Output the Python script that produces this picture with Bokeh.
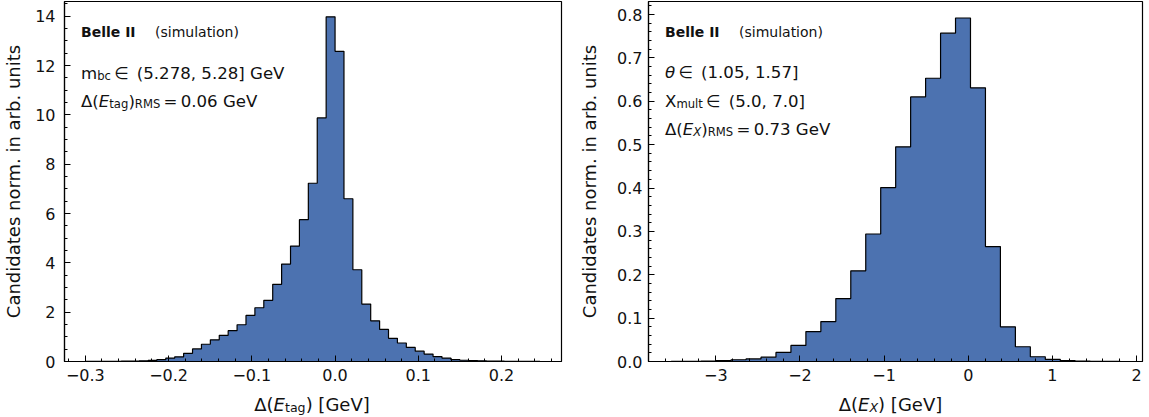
import numpy as np
from bokeh.plotting import figure
from bokeh.models import Range1d, FixedTicker, CustomJSTickFormatter, Label
from bokeh.layouts import row, column
from bokeh.embed import file_html
from bokeh.resources import INLINE

# ---------------- data ----------------
# left panel: Delta(E_tag) histogram (normalised)
etag_edge_lo = -0.2996
etag_edge_hi = 0.2461
etag_values = [0.003, 0.005, 0.007, 0.01, 0.015, 0.02, 0.03, 0.045, 0.08, 0.14,
               0.19, 0.33, 0.51, 0.70, 0.88, 1.06, 1.25, 1.49, 1.87, 2.18,
               2.48, 3.13, 3.95, 4.68, 5.75, 7.23, 9.88, 13.98, 12.58, 6.60,
               3.72, 2.33, 1.65, 1.30, 0.94, 0.75, 0.57, 0.42, 0.30, 0.20,
               0.14, 0.08, 0.05, 0.04, 0.03, 0.02, 0.015, 0.01, 0.008, 0.006,
               0.005]
etag_xticks = [-0.3, -0.2, -0.1, 0.0, 0.1, 0.2]
etag_yticks = [0, 2, 4, 6, 8, 10, 12, 14]
etag_xrange = (-0.325, 0.272)
etag_yrange = (0.0, 14.6)

# right panel: Delta(E_X) histogram (normalised)
ex_edge_lo = -3.53
ex_edge_hi = 1.804
ex_values = [0.0002, 0.0005, 0.001, 0.002, 0.004, 0.006, 0.010, 0.021, 0.037, 0.069,
             0.092, 0.145, 0.209, 0.294, 0.401, 0.495, 0.610, 0.653, 0.757, 0.792,
             0.631, 0.265, 0.080, 0.034, 0.011, 0.005, 0.002, 0.001, 0.0005, 0.0003]
ex_xticks = [-3, -2, -1, 0, 1, 2]
ex_yticks = [0.0, 0.1, 0.2, 0.3, 0.4, 0.5, 0.6, 0.7, 0.8]
ex_xrange = (-3.80, 2.07)
ex_yrange = (0.0, 0.83)

y_label = "Candidates norm. in arb. units"
belle_label = "Belle II"
sim_label = "(simulation)"

# text pieces: (text, size factor, style, subscript?, gap before in em)
left_lines = [
    [("m", 1, "normal", False, 0), ("bc", .7, "normal", True, 0),
     ("∈", 1, "normal", False, .195), ("(5.278, 5.28] GeV", 1, "normal", False, .513)],
    [("Δ(", 1, "normal", False, 0), ("E", 1, "italic", False, 0), ("tag", .7, "normal", True, 0),
     (")", 1, "normal", False, 0), ("RMS", .7, "normal", True, 0),
     ("=", 1, "normal", False, .195), ("0.06 GeV", 1, "normal", False, .195)],
]
right_lines = [
    [("θ", 1, "italic", False, 0), ("∈", 1, "normal", False, .195),
     ("(1.05, 1.57]", 1, "normal", False, .513)],
    [("X", 1, "normal", False, 0), ("mult", .7, "normal", True, 0),
     ("∈", 1, "normal", False, .195), ("(5.0, 7.0]", 1, "normal", False, .513)],
    [("Δ(", 1, "normal", False, 0), ("E", 1, "italic", False, 0), ("X", .7, "italic", True, 0),
     (")", 1, "normal", False, 0), ("RMS", .7, "normal", True, 0),
     ("=", 1, "normal", False, .195), ("0.73 GeV", 1, "normal", False, .195)],
]
left_xlabel = [("Δ(", 1, "normal", False, 0), ("E", 1, "italic", False, 0), ("tag", .7, "normal", True, 0),
               (")", 1, "normal", False, 0), ("[GeV]", 1, "normal", False, .318)]
right_xlabel = [("Δ(", 1, "normal", False, 0), ("E", 1, "italic", False, 0), ("X", .7, "italic", True, 0),
                (")", 1, "normal", False, 0), ("[GeV]", 1, "normal", False, .318)]

# ---------------- styling helpers ----------------
FONT = "DejaVu Sans"
FILL = "#4C72B0"
TXT = "#111111"
EM = {' ': .318, '(': .390, ')': .390, '[': .390, ']': .390, ',': .318, '.': .318,
      '=': .838, '∈': .85, 'Δ': .684, 'θ': .612, 'E': .632, 'G': .775, 'V': .684,
      'R': .695, 'M': .863, 'S': .635, 'X': .686, 'a': .613, 'b': .635, 'c': .550,
      'e': .615, 'g': .635, 'i': .278, 'l': .278, 'm': .974, 'n': .634, 'o': .612,
      's': .521, 't': .392, 'u': .634}
for d in "0123456789":
    EM[d] = .636


def tw(s, size):
    return sum(EM.get(c, .6) for c in s) * size


PAGE_W = 1149
PAGE_H = 417
LAB_H = 27
MAIN_H = PAGE_H - LAB_H
FRAME_H = 360
TOP = 1
BOTTOM = MAIN_H - TOP - FRAME_H


def add_run(p, parts, x0, base, size, frame_left, frame_bottom):
    x = x0
    for txt, f, style, sub, gap in parts:
        x += gap * size
        fs = size * f
        dy = 2.6 * size / 16.6 if sub else 0
        p.add_layout(Label(x=x - frame_left, y=frame_bottom - (base + dy),
                           x_units="screen", y_units="screen", text=txt,
                           text_font=FONT, text_font_size=f"{fs:.2f}px",
                           text_font_style=style, text_color=TXT,
                           text_align="left", text_baseline="alphabetic"))
        x += tw(txt, fs)


def run_width(parts, size):
    return sum(g * size + tw(t, size * f) for t, f, s, sb, g in parts)


def make_panel(edges, values, xr, yr, xticks, xminor, yticks, yminor, xfmt, yfmt,
               frame_w, b_left, b_right, ystandoff, ylabel_standoff):
    p = figure(width=b_left + frame_w + b_right, height=MAIN_H,
               frame_width=frame_w, frame_height=FRAME_H,
               x_range=Range1d(*xr), y_range=Range1d(*yr),
               output_backend="svg", toolbar_location=None,
               min_border_left=b_left, min_border_right=b_right,
               min_border_top=TOP, min_border_bottom=BOTTOM)
    p.background_fill_color = "white"
    p.border_fill_color = "white"
    p.outline_line_color = "black"
    p.outline_line_width = 1.2
    p.xgrid.visible = False
    p.ygrid.visible = False

    p.varea_step(x=edges, y1=[0.0] * len(edges), y2=list(values) + [values[-1]],
                 step_mode="after", fill_color=FILL)
    xs = [edges[0]]
    ys = [0.0]
    for i, v in enumerate(values):
        xs += [edges[i], edges[i + 1]]
        ys += [v, v]
    xs.append(edges[-1])
    ys.append(0.0)
    p.line(xs, ys, line_color="black", line_width=1.2)

    p.xaxis.ticker = FixedTicker(ticks=xticks, minor_ticks=xminor)
    p.yaxis.ticker = FixedTicker(ticks=yticks, minor_ticks=yminor)
    p.xaxis.formatter = CustomJSTickFormatter(code=xfmt)
    p.yaxis.formatter = CustomJSTickFormatter(code=yfmt)
    for ax in (p.xaxis[0], p.yaxis[0]):
        ax.axis_line_color = "black"
        ax.axis_line_width = 1.2
        ax.major_tick_in = 6
        ax.major_tick_out = 0
        ax.minor_tick_in = 3
        ax.minor_tick_out = 0
        ax.major_tick_line_color = "black"
        ax.minor_tick_line_color = "black"
        ax.major_tick_line_width = 1
        ax.minor_tick_line_width = 1
        ax.major_label_text_font = FONT
        ax.major_label_text_font_size = "16px"
        ax.major_label_text_color = TXT
    p.xaxis.major_label_standoff = 7
    p.yaxis.major_label_standoff = ystandoff
    p.yaxis.axis_label = y_label
    p.yaxis.axis_label_text_font = FONT
    p.yaxis.axis_label_text_font_size = "18px"
    p.yaxis.axis_label_text_font_style = "normal"
    p.yaxis.axis_label_text_color = TXT
    p.yaxis.axis_label_standoff = ylabel_standoff
    return p


def minor(lo, hi, step):
    n0 = int(np.ceil(lo / step - 1e-9))
    n1 = int(np.floor(hi / step + 1e-9))
    return [round(k * step, 6) for k in range(n0, n1 + 1)]


fmt_x1 = "return tick.toFixed(1).replace('-', '\u2212');"
fmt_x0 = "return tick.toFixed(0).replace('-', '\u2212');"
fmt_y1 = "return tick.toFixed(1);"
fmt_y0 = "return tick.toFixed(0);"

etag_edges = list(np.linspace(etag_edge_lo, etag_edge_hi, len(etag_values) + 1))
ex_edges = list(np.linspace(ex_edge_lo, ex_edge_hi, len(ex_values) + 1))

L_LEFT, L_W, L_RIGHT = 63, 497, 15
R_LEFT, R_W, R_RIGHT = 68, 494, 12
L_WIDTH = L_LEFT + L_W + L_RIGHT

p1 = make_panel(etag_edges, etag_values, etag_xrange, etag_yrange,
                etag_xticks, minor(etag_xrange[0], etag_xrange[1], 0.02),
                etag_yticks, minor(0, etag_yrange[1], 0.5), fmt_x1, fmt_y0,
                L_W, L_LEFT, L_RIGHT, 9, 8)
p2 = make_panel(ex_edges, ex_values, ex_xrange, ex_yrange,
                ex_xticks, minor(ex_xrange[0], ex_xrange[1], 0.2),
                ex_yticks, minor(0, ex_yrange[1], 0.02), fmt_x0, fmt_y1,
                R_W, R_LEFT, R_RIGHT, 6, 14)

# full-width strip below both panels that carries the x-axis titles
q = figure(width=PAGE_W, height=LAB_H, frame_width=PAGE_W, frame_height=LAB_H,
           x_range=Range1d(0, PAGE_W), y_range=Range1d(0, LAB_H),
           output_backend="svg", toolbar_location=None,
           min_border=0, min_border_left=0, min_border_right=0,
           min_border_top=0, min_border_bottom=0)
q.axis.visible = False
q.xgrid.visible = False
q.ygrid.visible = False
q.outline_line_color = None
q.background_fill_color = "white"
q.border_fill_color = "white"

FB = TOP + FRAME_H  # frame bottom (page px)
ANN = 16.6
XLAB_BASE = 404

for p, offset, fl, lines, bases, xl, fw in (
        (p1, 0, L_LEFT, left_lines, [72.7, 101.0], left_xlabel, L_W),
        (p2, L_WIDTH, R_LEFT, right_lines, [72.3, 101.0, 129.3], right_xlabel, R_W)):
    x0 = fl + 16.5
    p.add_layout(Label(x=16.5, y=FB - 31, x_units="screen", y_units="screen",
                       text=belle_label, text_font=FONT, text_font_size="14px",
                       text_font_style="bold", text_color=TXT,
                       text_align="left", text_baseline="alphabetic"))
    p.add_layout(Label(x=16.5 + 74, y=FB - 31, x_units="screen", y_units="screen",
                       text=sim_label, text_font=FONT, text_font_size="14px",
                       text_color=TXT,
                       text_align="left", text_baseline="alphabetic"))
    for parts, b in zip(lines, bases):
        add_run(p, parts, x0, b, ANN, fl, FB)
    # x-axis title (page coordinates inside the strip)
    wlab = run_width(xl, 18)
    cx = offset + fl + fw / 2.0
    add_run(q, xl, cx - wlab / 2.0, XLAB_BASE - MAIN_H, 18, 0, LAB_H)

layout = column(row(p1, p2), q)
with open("out.html", "w", encoding="utf-8") as fh:
    fh.write(file_html(layout, INLINE))
